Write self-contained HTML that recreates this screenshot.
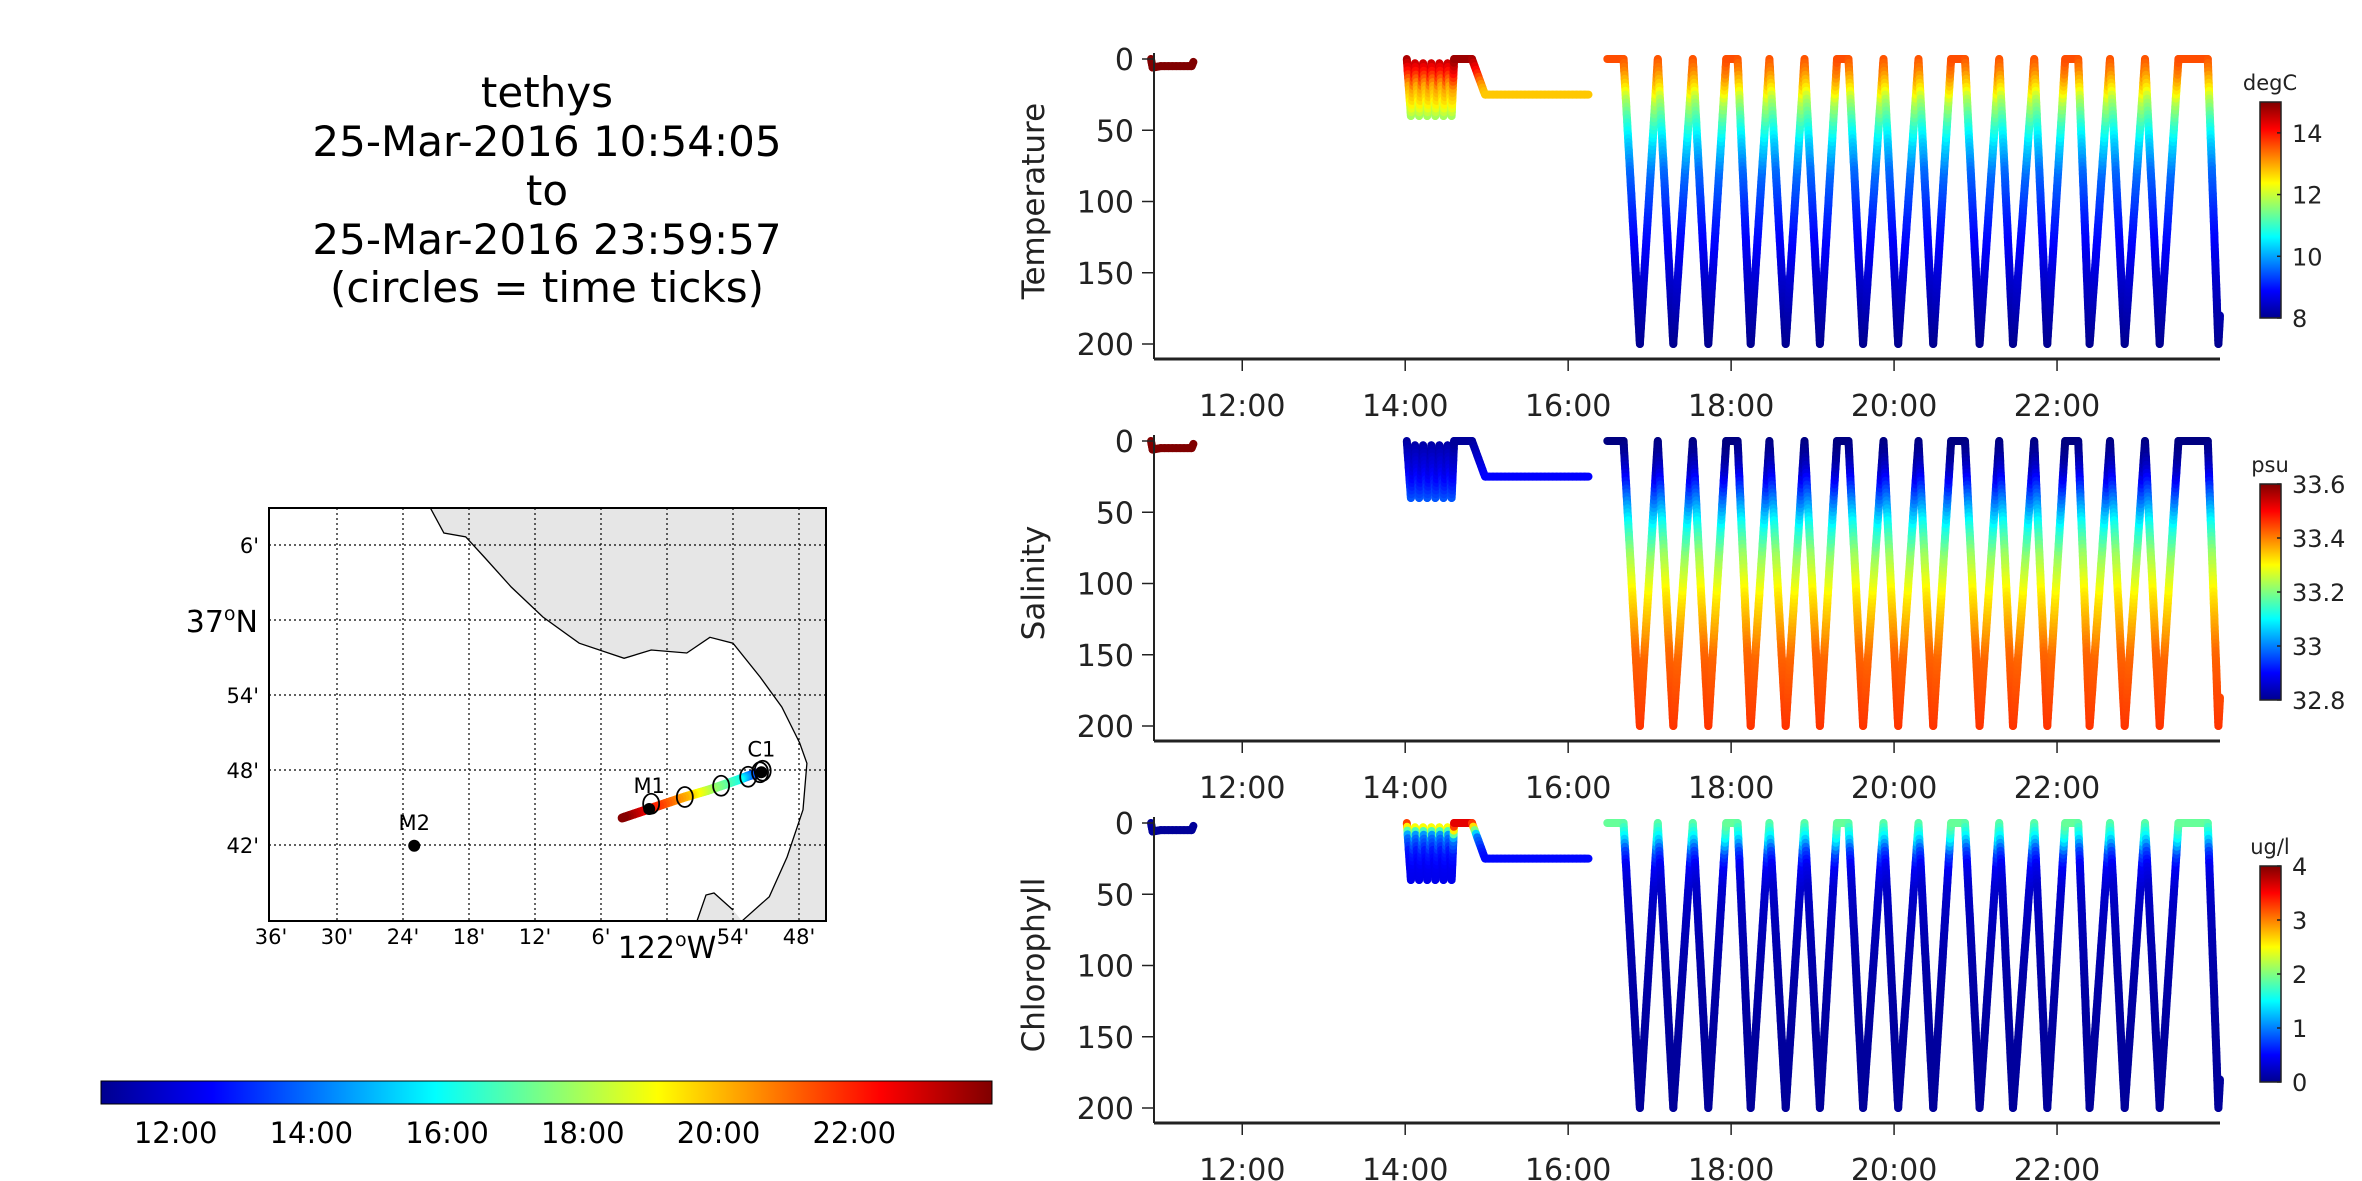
<!DOCTYPE html>
<html><head><meta charset="utf-8">
<style>
html,body{margin:0;padding:0;background:#fff;}
body{width:2362px;height:1181px;overflow:hidden;font-family:"DejaVu Sans","Liberation Sans",sans-serif;}
svg{position:absolute;left:0;top:0;}
</style></head>
<body>
<svg id="fig" width="2362" height="1181" viewBox="0 0 2362 1181" xmlns="http://www.w3.org/2000/svg" font-family="DejaVu Sans, Liberation Sans, sans-serif">
  <defs>
    <linearGradient id="jetH" x1="0" y1="0" x2="1" y2="0">
      <stop offset="0" stop-color="#00008f"/><stop offset="0.125" stop-color="#0000ff"/>
      <stop offset="0.375" stop-color="#00ffff"/><stop offset="0.625" stop-color="#ffff00"/>
      <stop offset="0.875" stop-color="#ff0000"/><stop offset="1" stop-color="#800000"/>
    </linearGradient>
    <linearGradient id="jetV" x1="0" y1="1" x2="0" y2="0">
      <stop offset="0" stop-color="#00008f"/><stop offset="0.125" stop-color="#0000ff"/>
      <stop offset="0.375" stop-color="#00ffff"/><stop offset="0.625" stop-color="#ffff00"/>
      <stop offset="0.875" stop-color="#ff0000"/><stop offset="1" stop-color="#800000"/>
    </linearGradient>
    <clipPath id="mapclip"><rect x="269" y="508" width="557" height="413"/></clipPath>
  </defs>
  <g font-size="42" text-anchor="middle" fill="#000">
    <text x="547" y="107">tethys</text>
    <text x="547" y="156">25-Mar-2016 10:54:05</text>
    <text x="547" y="205">to</text>
    <text x="547" y="254">25-Mar-2016 23:59:57</text>
    <text x="547" y="302">(circles = time ticks)</text>
  </g>
  <g id="map"></g>
  <g id="tcbar"></g>
  <g id="panels"></g>
</svg>
<script>
// ---------- data ----------
const mapLonTicks = [-122.6,-122.5,-122.4,-122.3,-122.2,-122.1,-122.0,-121.9,-121.8];
const mapLonLabels = ["36'","30'","24'","18'","12'","6'","","54'","48'"];
const mapLatTicks = [37.1,37.0,36.9,36.8,36.7];
const mapLatLabels = ["6'","","54'","48'","42'"];
const coastLon = [-122.359,-122.338,-122.305,-122.277,-122.236,-122.188,-122.133,-122.065,-122.024,-121.970,-121.935,-121.900,-121.859,-121.826,-121.799,-121.788,-121.794,-121.818,-121.845,-121.886];
const coastLat = [37.150,37.116,37.111,37.084,37.044,37.004,36.969,36.949,36.960,36.956,36.977,36.969,36.924,36.884,36.836,36.809,36.747,36.684,36.631,36.599];
const trackLon = [-121.855,-121.859,-121.877,-121.892,-121.938,-121.973,-122.024,-122.068];
const trackLat = [36.798,36.797,36.792,36.787,36.773,36.764,36.749,36.736];
const trackTime = [10.9,12,14,16,18,20,22,24];
const circleLon = [-121.855,-121.859,-121.877,-121.918,-121.973,-122.024];
const circleLat = [36.799,36.797,36.791,36.779,36.764,36.755];
const stationNames = ["M2","M1","C1"];
const stationLon = [-122.383,-122.027,-121.857];
const stationLat = [36.699,36.748,36.797];

const timeTicks = [12,14,16,18,20,22];
const timeLabels = ["12:00","14:00","16:00","18:00","20:00","22:00"];
const depthTicks = [0,50,100,150,200];

const seg1T = [10.88,10.90,11.00,11.38,11.40];
const seg1D = [0,6,5,5,2];
const seg2T = [14.02,14.07,14.12,14.17,14.22,14.27,14.32,14.37,14.42,14.47,14.52,14.57,14.60,14.82,14.98,16.25];
const seg2D = [0,40,3,40,3,40,3,40,3,40,3,40,0,0,25,25];
const seg3T = [16.48,16.68,16.88,17.10,17.29,17.53,17.72,17.94,18.08,18.24,18.47,18.67,18.90,19.09,19.30,19.44,19.62,19.87,20.05,20.30,20.48,20.70,20.87,21.05,21.29,21.46,21.72,21.88,22.10,22.26,22.40,22.65,22.83,23.08,23.26,23.49,23.85,23.98,24.0];
const seg3D = [0,0,200,0,200,0,200,0,0,200,0,200,0,200,0,0,200,0,200,0,200,0,0,200,0,200,0,200,0,0,200,0,200,0,200,0,0,200,180];

const profDepth = [0,10,20,30,45,60,80,110,150,200];
const tempEarly = [15,15,15,15,15,15,15,15,15,15];
const tempCluster = [14.8,14,13,12.5,11.2,11,11,11,11,11];
const tempMain = [13.6,13.2,12.6,11.8,11.0,10.3,9.6,9.1,8.6,8.1];
const salEarly = [33.6,33.6,33.6,33.6,33.6,33.6,33.6,33.6,33.6,33.6];
const salCluster = [32.82,32.85,32.88,32.92,33.0,33.0,33.0,33.0,33.0,33.0];
const salMain = [32.8,32.82,32.86,32.92,33.02,33.12,33.22,33.32,33.42,33.46];
const chlEarly = [0.1,0.1,0.1,0.1,0.1,0.1,0.1,0.1,0.1,0.1];
const chlCluster = [3.6,1.0,0.6,0.45,0.4,0.4,0.4,0.4,0.4,0.4];
const chlMain = [1.9,1.5,0.8,0.45,0.3,0.25,0.2,0.15,0.12,0.1];

const panelNames = ["Temperature","Salinity","Chlorophyll"];
const panelUnits = ["degC","psu","ug/l"];
const panelMin = [8,32.8,0];
const panelMax = [15,33.6,4];
const cbarTicks = [[8,10,12,14],[32.8,33,33.2,33.4,33.6],[0,1,2,3,4]];
const cbarLabels = [["8","10","12","14"],["32.8","33","33.2","33.4","33.6"],["0","1","2","3","4"]];
const profiles = [[tempEarly,tempCluster,tempMain],[salEarly,salCluster,salMain],[chlEarly,chlCluster,chlMain]];

// ---------- helpers ----------
const NS="http://www.w3.org/2000/svg";
function mk(tag,attrs,parent){const e=document.createElementNS(NS,tag);for(const k in attrs)e.setAttribute(k,attrs[k]);if(parent)parent.appendChild(e);return e;}
function cl(x){return Math.max(0,Math.min(1,x));}
function jet(v){v=cl(v);const r=cl(1.5-Math.abs(4*v-3)),g=cl(1.5-Math.abs(4*v-2)),b=cl(1.5-Math.abs(4*v-1));return `rgb(${Math.round(r*255)},${Math.round(g*255)},${Math.round(b*255)})`;}
function interp(xs,ys,x){if(x<=xs[0])return ys[0];for(let i=1;i<xs.length;i++){if(x<=xs[i]){const f=(x-xs[i-1])/(xs[i]-xs[i-1]);return ys[i-1]+f*(ys[i]-ys[i-1]);}}return ys[ys.length-1];}

// ---------- map ----------
const lonX = lon => 667 + (lon+122)*660;
const latY = lat => 620 - (lat-37)*750;
const map=document.getElementById('map');
{
  let pts=[];for(let i=0;i<coastLon.length;i++)pts.push(lonX(coastLon[i]).toFixed(1)+','+latY(coastLat[i]).toFixed(1));
  const land=mk('polygon',{points:pts.join(' ')+' 826,921 826,508',fill:'#e6e6e6','clip-path':'url(#mapclip)'},map);
  
  
  const land2=mk('polygon',{points:'697,921 706,895 714,893 733,910 742,921',fill:'#e6e6e6'},map);
  
  
  const coast=mk('polyline',{points:pts.join(' '),fill:'none',stroke:'#000','stroke-width':1.3,'clip-path':'url(#mapclip)'},map);
  
  
  mk('polyline',{points:'697,921 706,895 714,893 733,910',fill:'none',stroke:'#000','stroke-width':1.3},map);
  mapLonTicks.forEach((lo,i)=>{const x=lonX(lo);
    if(i>0)mk('line',{x1:x,y1:508,x2:x,y2:921,stroke:'#000','stroke-width':1.2,'stroke-dasharray':'2,3'},map);
    const t=mk('text',{x:x,y:944,'font-size':21,'text-anchor':'middle'},map);t.textContent=mapLonLabels[i];
    
    });
  const lw=mk('text',{x:667,y:958,'font-size':30,'text-anchor':'middle'},map);
  lw.innerHTML='122<tspan font-size="19" dy="-12">o</tspan><tspan dy="12">W</tspan>';
  mapLatTicks.forEach((la,i)=>{const y=latY(la);
    mk('line',{x1:269,y1:y,x2:826,y2:y,stroke:'#000','stroke-width':1.2,'stroke-dasharray':'2,3'},map);
    const t=mk('text',{x:259,y:y+8,'font-size':21,'text-anchor':'end'},map);t.textContent=mapLatLabels[i];
    
    });
  const ln=mk('text',{x:258,y:632,'font-size':30,'text-anchor':'end'},map);
  ln.innerHTML='37<tspan font-size="19" dy="-12">o</tspan><tspan dy="12">N</tspan>';
  for(let i=1;i<trackLon.length;i++){
    const n=12;for(let k=0;k<n;k++){
      const f0=k/n,f1=(k+1)/n;
      const lo0=trackLon[i-1]+(trackLon[i]-trackLon[i-1])*f0,la0=trackLat[i-1]+(trackLat[i]-trackLat[i-1])*f0;
      const lo1=trackLon[i-1]+(trackLon[i]-trackLon[i-1])*f1,la1=trackLat[i-1]+(trackLat[i]-trackLat[i-1])*f1;
      const tm=trackTime[i-1]+(trackTime[i]-trackTime[i-1])*(f0+f1)/2;
      const s=mk('line',{x1:lonX(lo0),y1:latY(la0),x2:lonX(lo1),y2:latY(la1),stroke:jet((tm-10.9)/13.1),'stroke-width':9,'stroke-linecap':'round'},map);
      
      
    }
  }
  circleLon.forEach((lo,i)=>{const c=mk('ellipse',{cx:lonX(lo),cy:latY(circleLat[i]),rx:8,ry:10,fill:'none',stroke:'#000','stroke-width':1.8},map);
    
    });
  stationNames.forEach((nm,i)=>{const x=lonX(stationLon[i]),y=latY(stationLat[i]);
    const d=mk('circle',{cx:x,cy:y,r:6,fill:'#000'},map);
    
    
    const t=mk('text',{x:x,y:y-16,'font-size':21,'text-anchor':'middle'},map);t.textContent=nm;
    
    });
  const fr=mk('rect',{x:269,y:508,width:557,height:413,fill:'none',stroke:'#000','stroke-width':2},map);
  
  
}

// ---------- time colorbar ----------
{
  const g=document.getElementById('tcbar');
  mk('rect',{x:101,y:1081,width:891,height:23,fill:'url(#jetH)',stroke:'#000','stroke-width':1},g);
  const tx=t=>101+(t-10.9)/(24.03-10.9)*891;
  timeTicks.forEach((t,i)=>{const x=tx(t);
    const l=mk('text',{x:x,y:1143,'font-size':29,'text-anchor':'middle'},g);l.textContent=timeLabels[i];
    
    });
}

// ---------- section panels ----------
const X0=1154,X1=2220,TMIN=10.917,TMAX=24.0;
const xS=t=>X0+(t-TMIN)/(TMAX-TMIN)*(X1-X0);
const panelsG=document.getElementById('panels');
const y0s=[59,441,823];
panelNames.forEach((name,p)=>{
  const y0=y0s[p];const yS=d=>y0+d/200*285;
  const g=mk('g',{},panelsG);
  
  
  const vmin=panelMin[p],vmax=panelMax[p];
  const segs=[[seg1T,seg1D,profiles[p][0]],[seg2T,seg2D,profiles[p][1]],[seg3T,seg3D,profiles[p][2]]];
  segs.forEach(([T,D,prof])=>{
    for(let i=1;i<T.length;i++){
      const xa=xS(T[i-1]),ya=yS(D[i-1]),xb=xS(T[i]),yb=yS(D[i]);
      const len=Math.hypot(xb-xa,yb-ya);const n=Math.max(1,Math.ceil(len/4));
      for(let k=0;k<n;k++){
        const f0=k/n,f1=(k+1)/n;const dm=D[i-1]+(D[i]-D[i-1])*(f0+f1)/2;
        const v=interp(profDepth,prof,dm);
        const s=mk('line',{x1:(xa+(xb-xa)*f0).toFixed(1),y1:(ya+(yb-ya)*f0).toFixed(1),x2:(xa+(xb-xa)*f1).toFixed(1),y2:(ya+(yb-ya)*f1).toFixed(1),stroke:jet((v-vmin)/(vmax-vmin)),'stroke-width':8,'stroke-linecap':'round'},g);
        
        
      }
    }
  });
  mk('line',{x1:X0,y1:y0-6,x2:X0,y2:y0+300,stroke:'#222','stroke-width':2},g);
  mk('line',{x1:X0,y1:y0+300,x2:X1,y2:y0+300,stroke:'#222','stroke-width':3},g);
  depthTicks.forEach(d=>{const y=yS(d);
    mk('line',{x1:X0-12,y1:y,x2:X0,y2:y,stroke:'#222','stroke-width':1.5},g);
    const t=mk('text',{x:X0-20,y:y+11,'font-size':30,'text-anchor':'end',fill:'#222'},g);t.textContent=d;
    
    });
  timeTicks.forEach((tt,i)=>{const x=xS(tt);
    mk('line',{x1:x,y1:y0+300,x2:x,y2:y0+312,stroke:'#222','stroke-width':1.5},g);
    const t=mk('text',{x:x,y:y0+357,'font-size':30,'text-anchor':'middle',fill:'#222'},g);t.textContent=timeLabels[i];
    
    });
  const yt=mk('text',{x:0,y:0,'font-size':31,'text-anchor':'middle',fill:'#222',transform:`translate(1044,${y0+142}) rotate(-90)`},g);
  yt.textContent=name;
  
  
  const cy0=y0+43,cy1=y0+259;
  const cb=mk('rect',{x:2260,y:cy0,width:21,height:cy1-cy0,fill:'url(#jetV)',stroke:'#222','stroke-width':1.5},g);
  
  
  const un=mk('text',{x:2270,y:y0+31,'font-size':21,'text-anchor':'middle',fill:'#222'},g);un.textContent=panelUnits[p];
  
  
  cbarTicks[p].forEach((v,i)=>{const y=cy1-(v-vmin)/(vmax-vmin)*(cy1-cy0);
    mk('line',{x1:2277,y1:y,x2:2281,y2:y,stroke:'#222','stroke-width':1.5},g);
    const t=mk('text',{x:2292,y:y+9,'font-size':24,fill:'#222'},g);t.textContent=cbarLabels[p][i];
    
    });
});
</script>
</body></html>
